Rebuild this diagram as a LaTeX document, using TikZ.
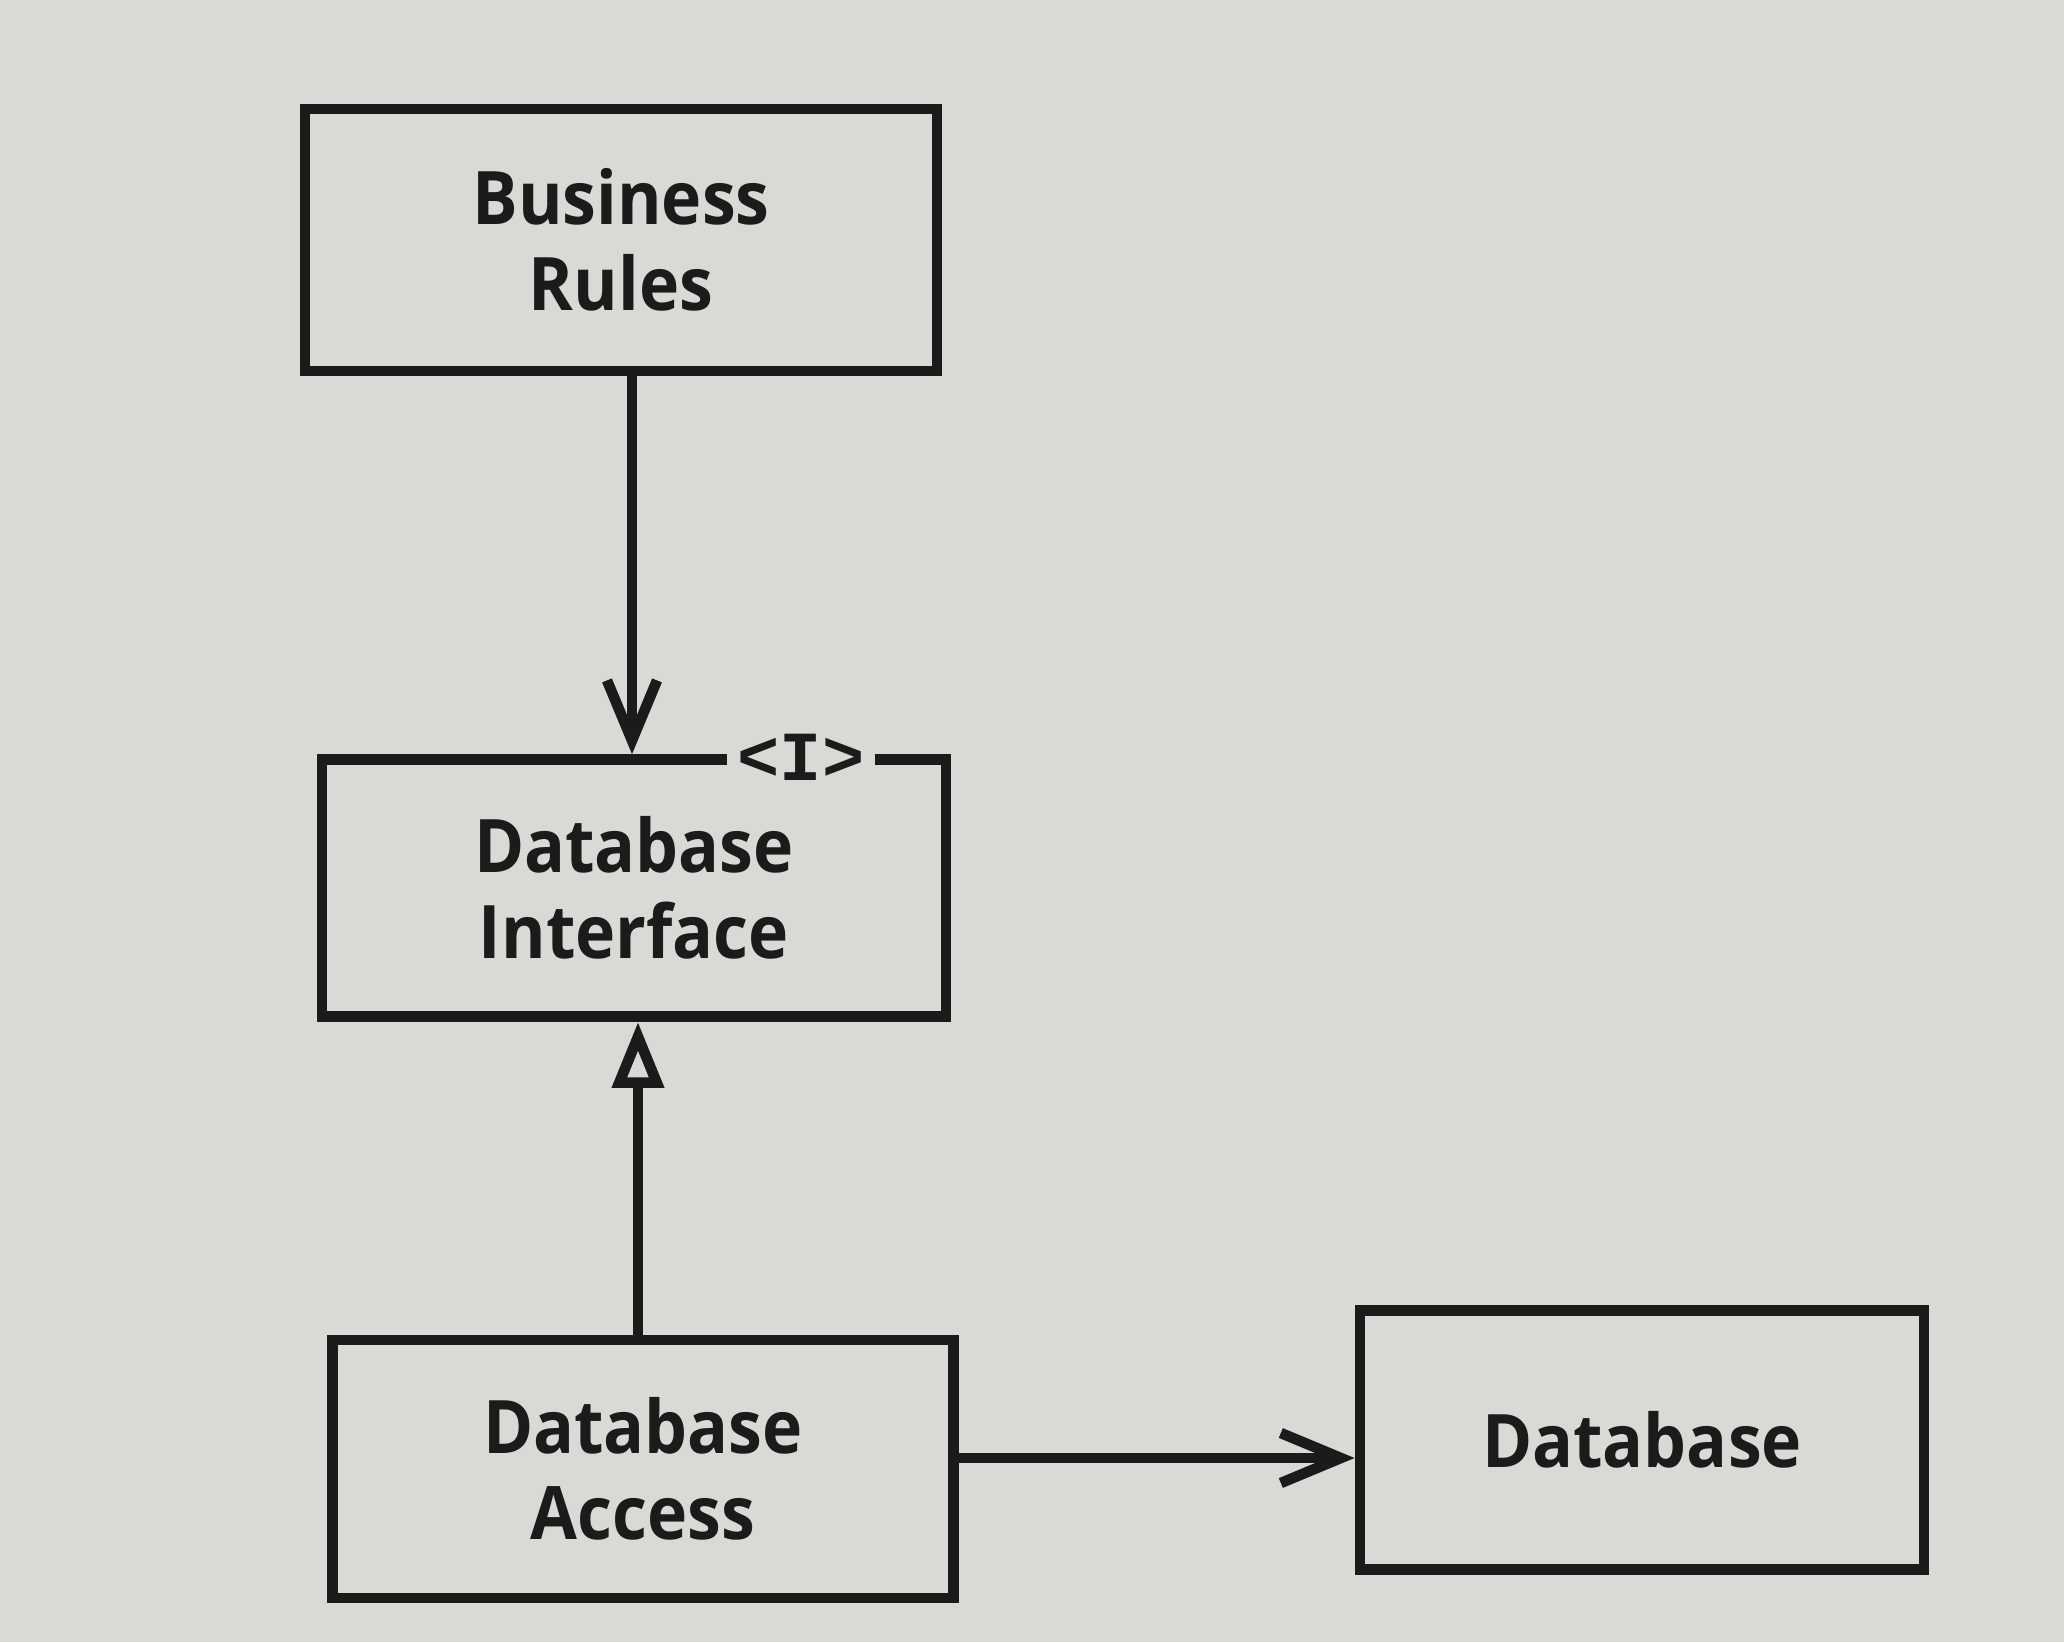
\documentclass[tikz,border=0pt]{standalone}
\usepackage{fontspec}
\setmainfont{Open Sans}[FakeStretch=0.92]
\newfontfamily\monobold{Liberation Mono}[UprightFont={* Bold}]
\usetikzlibrary{arrows.meta}
\definecolor{bg}{HTML}{D9D9D6}
\definecolor{ink}{HTML}{1C1A1A}
\tikzset{
  box/.style={draw=ink, line width=3pt, minimum width=#1, inner sep=0pt, align=center,
    font=\fontsize{21}{24.5}\selectfont\bfseries, text=ink},
  conn/.style={draw=ink, line width=3pt},
  vhead/.style={-{Straight Barb[length=6mm,width=5mm,line width=3pt]}},
  trihead/.style={-{Triangle[open,length=6.6mm,width=5mm,line width=3pt,fill=bg]}}
}
\begin{document}
\begin{tikzpicture}[x=0.01cm,y=-0.01cm]
\fill[bg] (0,0) rectangle (2064,1642);
\useasboundingbox (0,0) rectangle (2064,1642);
\node[box=6.32cm, minimum height=2.62cm] (br) at (621,240) {Business\\Rules};
\node[box=6.24cm, minimum height=2.57cm] (di) at (634,888) {Database\\Interface};
\node[box=6.21cm, minimum height=2.58cm] (da) at (643,1469) {Database\\Access};
\node[box=5.64cm, minimum height=2.59cm] (db) at (1642,1440) {Database};
\node[fill=bg, inner xsep=3pt, inner ysep=1pt, text=ink, font=\fontsize{20}{21}\selectfont\monobold] (iface) at (801,757) {<I>};
\draw[conn, vhead] (br.south -| 632,0) -- (di.north -| 632,0);
\draw[conn, trihead] (da.north -| 638,0) -- (di.south -| 638,0);
\draw[conn, vhead] (da.east |- 0,1458) -- (db.west |- 0,1458);
\end{tikzpicture}
\end{document}
